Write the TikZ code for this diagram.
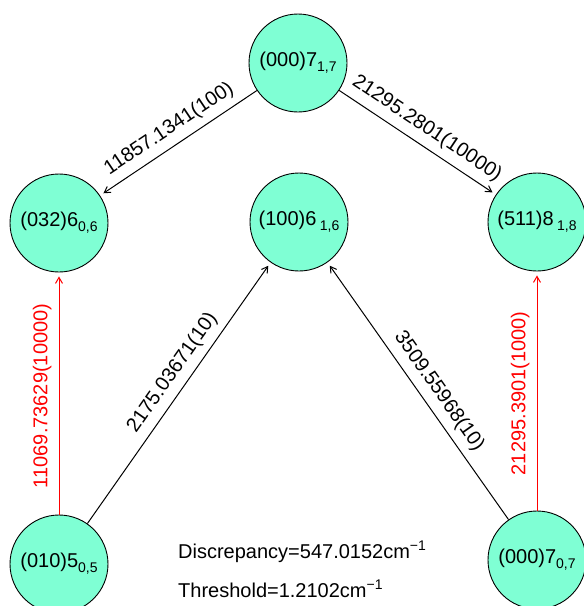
\documentclass[tikz,border=0pt]{standalone}
\usepackage{fontspec}
\setmainfont{Liberation Sans}
\usetikzlibrary{arrows.meta}
\definecolor{aqua}{RGB}{127,255,212}
\newcommand{\lsub}[1]{\raisebox{-5pt}{\fontsize{14}{14}\selectfont #1}}
\newcommand{\lsup}[1]{\raisebox{8pt}{\fontsize{14}{14}\selectfont #1}}
\begin{document}
\begin{tikzpicture}[x=1pt,y=1pt,
  state/.style={circle,draw=black,line width=0.9pt,fill=aqua,minimum size=98pt,inner sep=0pt,font=\fontsize{20}{24}\selectfont},
  conn/.style={-{Straight Barb[length=6pt,width=7pt]},line width=1pt,shorten >=4pt},
  lbl/.style={sloped,above=5pt,inner sep=2pt,font=\fontsize{20}{24}\selectfont},
  note/.style={anchor=base west,inner sep=0pt,font=\fontsize{20}{24}\selectfont}]
\useasboundingbox (0,0) rectangle (584,-606);
\node[state] (T) at (298,-63) {(000)7\lsub{1,7}};
\node[state] (L) at (59,-223) {(032)6\lsub{0,6}};
\node[state] (M) at (299,-222) {(100)6\,\lsub{1,6}};
\node[state] (R) at (537,-222) {(511)8\,\lsub{1,8}};
\node[state] (BL) at (59,-564) {(010)5\lsub{0,5}};
\node[state] (BR) at (537,-560) {(000)7\lsub{0,7}};
\draw[conn] (T) -- node[lbl]{11857.1341(100)} (L);
\draw[conn] (T) -- node[lbl]{21295.2801(10000)} (R);
\draw[conn] (BL) -- node[lbl,pos=0.54]{2175.03671(10)} (M);
\draw[conn] (BR) -- node[lbl,pos=0.46]{3509.55968(10)} (M);
\draw[conn,red] (BL) -- node[lbl,pos=0.49]{11069.73629(10000)} (L);
\draw[conn,red] (BR) -- node[lbl,pos=0.49]{21295.3901(1000)} (R);
\node[note] (disc) at (178,-558) {Discrepancy=547.0152cm\lsup{−1}};
\node[note] (thr) at (178,-597) {Threshold=1.2102cm\lsup{−1}};
\end{tikzpicture}
\end{document}
